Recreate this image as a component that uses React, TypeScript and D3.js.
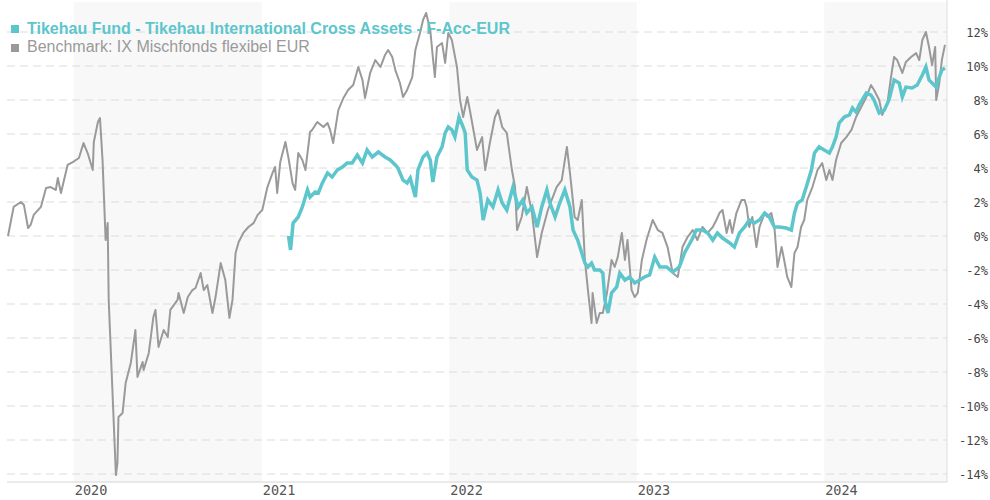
import React from "react";
import * as d3 from "d3";

const fundName = "Tikehau Fund - Tikehau International Cross Assets - F-Acc-EUR";
const benchName = "Benchmark: IX Mischfonds flexibel EUR";

const yearLabels = ["2020", "2021", "2022", "2023", "2024"];
const shadedYears = ["2020", "2022", "2024"];
const yTicks = [12, 10, 8, 6, 4, 2, 0, -2, -4, -6, -8, -10, -12, -14];

const benchDates = [
  "2019-08-26","2019-09-01","2019-09-06","2019-09-20","2019-09-26","2019-10-04","2019-10-09","2019-10-15","2019-10-29","2019-11-08",
  "2019-11-17","2019-11-27","2019-12-01","2019-12-07","2019-12-20","2019-12-30","2020-01-11","2020-01-20","2020-01-28","2020-02-07",
  "2020-02-09","2020-02-17","2020-02-21","2020-02-26","2020-03-03","2020-03-07","2020-03-09","2020-03-17","2020-03-23","2020-03-26",
  "2020-03-28","2020-04-05","2020-04-11","2020-04-21","2020-04-30","2020-05-04","2020-05-14","2020-05-16","2020-05-26","2020-06-04",
  "2020-06-08","2020-06-14","2020-06-24","2020-07-02","2020-07-07","2020-07-21","2020-07-23","2020-08-02","2020-08-10","2020-08-19",
  "2020-08-25","2020-09-04","2020-09-10","2020-09-17","2020-09-27","2020-10-03","2020-10-13","2020-10-22","2020-10-30","2020-11-05",
  "2020-11-11","2020-11-17","2020-11-26","2020-12-06","2020-12-16","2020-12-24","2021-01-02","2021-01-12","2021-01-22","2021-01-27",
  "2021-01-31","2021-02-06","2021-02-16","2021-02-22","2021-03-02","2021-03-07","2021-03-13","2021-03-21","2021-03-27","2021-04-05",
  "2021-04-09","2021-04-19","2021-05-01","2021-05-09","2021-05-14","2021-05-20","2021-05-30","2021-06-09","2021-06-18","2021-06-28",
  "2021-07-08","2021-07-16","2021-07-21","2021-07-31","2021-08-10","2021-08-20","2021-08-29","2021-09-04","2021-09-12","2021-09-18",
  "2021-09-27","2021-10-03","2021-10-11","2021-10-21","2021-10-27","2021-11-05","2021-11-11","2021-11-17","2021-11-25","2021-11-30",
  "2021-12-04","2021-12-08","2021-12-18","2021-12-24","2021-12-30","2022-01-06","2022-01-16","2022-01-22","2022-01-28","2022-02-05",
  "2022-02-10","2022-02-16","2022-02-24","2022-03-06","2022-03-12","2022-03-21","2022-03-31","2022-04-06","2022-04-14","2022-04-23",
  "2022-05-03","2022-05-09","2022-05-13","2022-05-22","2022-06-01","2022-06-11","2022-06-21","2022-06-30","2022-07-12","2022-07-29",
  "2022-08-08","2022-08-18","2022-08-24","2022-09-02","2022-09-08","2022-09-16","2022-09-22","2022-09-28","2022-10-05","2022-10-07",
  "2022-10-15","2022-10-21","2022-10-27","2022-11-04","2022-11-13","2022-11-19","2022-11-25","2022-12-03","2022-12-09","2022-12-14",
  "2022-12-22","2022-12-28","2023-01-03","2023-01-11","2023-01-20","2023-02-01","2023-02-11","2023-02-20","2023-03-02","2023-03-12",
  "2023-03-22","2023-03-31","2023-04-10","2023-04-20","2023-04-29","2023-05-09","2023-05-19","2023-05-29","2023-06-05","2023-06-11",
  "2023-06-17","2023-06-25","2023-07-01","2023-07-06","2023-07-14","2023-07-24","2023-07-30","2023-08-03","2023-08-08","2023-08-14",
  "2023-08-22","2023-08-28","2023-09-07","2023-09-12","2023-09-20","2023-09-26","2023-10-02","2023-10-10","2023-10-15","2023-10-21",
  "2023-10-29","2023-11-04","2023-11-10","2023-11-17","2023-11-23","2023-11-29","2023-12-09","2023-12-19","2023-12-28","2024-01-05",
  "2024-01-11","2024-01-17","2024-01-24","2024-02-03","2024-02-13","2024-02-23","2024-03-03","2024-03-13","2024-03-23","2024-04-01",
  "2024-04-07","2024-04-17","2024-04-23","2024-05-03","2024-05-10","2024-05-16","2024-05-22","2024-06-01","2024-06-08","2024-06-18",
  "2024-06-28","2024-07-04","2024-07-10","2024-07-17","2024-07-23","2024-07-29","2024-08-04","2024-08-06","2024-08-12","2024-08-17",
  "2024-08-23"
];
const benchValues = [
  0, 0.94, 1.71, 2.0, 1.82, 0.47, 0.65, 1.24, 1.71, 2.82,
  2.88, 2.71, 3.41, 2.53, 4.18, 4.35, 4.59, 5.47, 4.88, 3.88,
  5.53, 6.71, 6.94, 4.47, -0.24, 0.76, -3.76, -9.65, -14.06, -13.35,
  -10.65, -10.41, -8.65, -7.47, -5.53, -8.29, -7.41, -7.88, -6.88, -4.76,
  -4.35, -6.53, -5.53, -5.94, -4.35, -3.76, -3.35, -4.53, -3.59, -3.18,
  -3.06, -2.18, -3.18, -2.88, -4.53, -3.59, -1.59, -2.59, -4.82, -3.76,
  -1.0, -0.35, 0.18, 0.53, 0.76, 1.24, 1.53, 2.88, 3.71, 4.06,
  2.53, 4.35, 5.53, 4.59, 3.1, 2.71, 4.88, 4.47, 3.88, 6.12,
  6.24, 6.71, 6.41, 6.65, 6.24, 5.47, 7.41, 8.12, 8.59, 8.88,
  9.94, 9.18, 8.12, 9.59, 10.35, 9.94, 10.65, 10.94, 10.53, 9.76,
  9.0, 8.18, 8.59, 9.35, 10.94, 11.94, 12.71, 13.12, 12.12, 10.53,
  9.35, 11.12, 11.35, 10.18, 11.94, 11.53, 9.94, 8.0, 7.0, 8.18,
  7.41, 6.41, 5.06, 5.82, 3.88, 5.47, 7.0, 7.41, 6.41, 6.06,
  3.88, 2.88, 0.35, 1.12, 2.88, 1.35, -1.24, 0.18, 1.53, 2.88,
  3.29, 5.24, 3.71, 1.12, 0.94, 2.12, -1.41, -3.18, -5.12, -3.35,
  -5.12, -4.53, -4.53, -3.35, -1.41, -1.82, -1.24, 0.18, -1.41, -0.24,
  -3.18, -3.59, -3.35, -1.41, -0.24, 0.94, 0.35, 0.18, -0.65, -2.18,
  -2.41, -0.65, -0.06, 0.35, -0.24, 0.53, 0.18, 0.53, 0.94, 1.35,
  1.53, 0.18, 0.94, 0.18, 1.35, 2.12, 2.12, 1.71, 0.53, 1.12,
  -0.65, 0.53, 1.35, 1.12, 1.35, 0.53, -1.82, -0.65, -1.41, -2.41,
  -3.0, -1.0, -0.65, 0.53, 0.94, 2.12, 2.88, 3.88, 4.29, 3.29,
  3.88, 3.29, 4.47, 5.47, 5.82, 6.24, 7.0, 7.59, 8.18, 8.88,
  8.59, 8.0, 7.12, 7.82, 9.35, 10.53, 10.35, 9.59, 10.24, 10.53,
  10.76, 10.35, 11.53, 12.0, 11.12, 10.06, 11.12, 8.0, 9.0, 10.35,
  11.24
];

const fundDates = [
  "2021-02-22","2021-02-26","2021-03-03","2021-03-13","2021-03-21","2021-03-31","2021-04-05","2021-04-15","2021-04-21","2021-04-29",
  "2021-05-09","2021-05-18","2021-05-28","2021-06-07","2021-06-16","2021-06-26","2021-07-06","2021-07-16","2021-07-25","2021-08-04",
  "2021-08-16","2021-08-29","2021-09-08","2021-09-18","2021-09-23","2021-10-03","2021-10-11","2021-10-17","2021-10-27","2021-11-01",
  "2021-11-11","2021-11-19","2021-11-25","2021-11-30","2021-12-08","2021-12-18","2021-12-24","2021-12-30","2022-01-06","2022-01-12",
  "2022-01-20","2022-01-28","2022-02-01","2022-02-05","2022-02-14","2022-02-24","2022-03-02","2022-03-08","2022-03-17","2022-03-27",
  "2022-04-06","2022-04-14","2022-04-23","2022-05-05","2022-05-15","2022-05-24","2022-06-01","2022-06-11","2022-06-21","2022-06-30",
  "2022-07-10","2022-07-16","2022-07-26","2022-08-04","2022-08-14","2022-08-24","2022-08-30","2022-09-08","2022-09-16","2022-09-22",
  "2022-09-28","2022-10-05","2022-10-11","2022-10-21","2022-10-27","2022-10-31","2022-11-06","2022-11-13","2022-11-23","2022-11-29",
  "2022-12-09","2022-12-18","2022-12-28","2023-01-07","2023-01-16","2023-01-26","2023-02-05","2023-02-15","2023-02-28","2023-03-12",
  "2023-03-25","2023-04-04","2023-04-18","2023-04-27","2023-05-09","2023-05-19","2023-05-29","2023-06-07","2023-06-17","2023-07-01",
  "2023-07-10","2023-07-20","2023-07-30","2023-08-08","2023-08-18","2023-08-28","2023-09-07","2023-09-16","2023-09-26","2023-10-06",
  "2023-10-19","2023-10-29","2023-11-04","2023-11-10","2023-11-19","2023-11-27","2023-12-07","2023-12-13","2023-12-22","2024-01-01",
  "2024-01-11","2024-01-17","2024-01-24","2024-01-30","2024-02-09","2024-02-19","2024-02-25","2024-03-03","2024-03-09","2024-03-15",
  "2024-03-23","2024-04-01","2024-04-07","2024-04-17","2024-04-27","2024-05-06","2024-05-16","2024-05-26","2024-06-01","2024-06-08",
  "2024-06-20","2024-06-30","2024-07-10","2024-07-17","2024-07-23","2024-07-29","2024-08-06","2024-08-10","2024-08-17","2024-08-23"
];
const fundValues = [
  0, -0.82, 0.76, 1.12, 1.71, 2.71, 2.29, 2.59, 2.53, 3.12,
  3.71, 3.47, 3.88, 4.06, 4.29, 4.29, 4.76, 4.29, 5.06, 4.65,
  4.94, 4.65, 4.47, 4.18, 4.0, 3.29, 3.12, 3.41, 2.29, 3.88,
  4.65, 4.88, 4.47, 3.18, 4.65, 5.24, 6.06, 6.41, 6.24, 5.82,
  7.0, 6.41, 6.06, 3.88, 3.47, 3.29, 2.53, 0.94, 2.12, 1.71,
  2.71, 1.94, 1.53, 2.88, 1.71, 2.12, 1.35, 1.71, 0.53, 1.71,
  2.71, 1.94, 1.12, 1.94, 2.71, 1.71, 0.35, -0.24, -1.0, -1.59,
  -1.82, -1.59, -2.0, -2.0, -2.18, -3.76, -4.53, -3.35, -3.0, -2.18,
  -2.59, -2.41, -2.76, -2.59, -2.41, -2.29, -1.24, -1.82, -1.82, -2.12,
  -1.82, -1.0, -0.24, 0.35, 0.35, 0.18, -0.24, 0.18, -0.12, -0.41,
  -0.65, 0.18, 0.53, 0.94, 0.76, 0.94, 1.35, 1.12, 0.53, 0.53,
  0.47, 0.35, 1.35, 1.94, 2.12, 2.88, 3.88, 4.88, 5.24, 5.06,
  4.88, 5.24, 5.82, 6.65, 7.0, 7.12, 7.53, 7.29, 7.71, 8.0,
  8.41, 8.29, 8.0, 7.24, 7.41, 8.0, 9.18, 9.0, 8.18, 8.76,
  8.71, 8.88, 9.47, 9.94, 9.18, 9.0, 8.76, 9.18, 9.76, 9.88
];

const FUND_COLOR = "#5cc6cc";
const BENCH_COLOR = "#9a9a9a";

export default function App() {
  const parse = d3.utcParse("%Y-%m-%d");
  const left = 7, right = 947, top = 2, bottom = 482;
  const x = d3.scaleUtc()
    .domain([parse("2019-08-24") as Date, parse("2024-08-27") as Date])
    .range([left, right]);
  const y = d3.scaleLinear().domain([-14, 12]).range([474, 32]);

  const bench = benchDates.map((d, i) => ({ d: parse(d) as Date, v: benchValues[i] }));
  const fund = fundDates.map((d, i) => ({ d: parse(d) as Date, v: fundValues[i] }));

  const line = d3.line<{ d: Date; v: number }>()
    .x((p) => x(p.d))
    .y((p) => y(p.v));

  const yearStart = (yr: string) => x(parse(`${yr}-01-01`) as Date);

  return (
    <svg width={990} height={500} style={{ position: "absolute", left: 0, top: 0, background: "#fff" }}
      fontFamily="'Liberation Sans', Arial, sans-serif">
      {shadedYears.map((yr) => {
        const x0 = yearStart(yr);
        const x1 = Math.min(yearStart(String(+yr + 1)), right);
        return <rect key={yr} x={x0} y={top} width={x1 - x0} height={bottom - top} fill="#f8f8f8" />;
      })}
      {yTicks.map((t) => (
        <line key={t} x1={left} x2={right} y1={y(t)} y2={y(t)} stroke="#dcdcdc" strokeWidth={1} strokeDasharray="8,5" />
      ))}
      <line x1={left} x2={right} y1={bottom} y2={bottom} stroke="#d6d6d6" strokeWidth={1} />
      <line x1={right} x2={right} y1={0} y2={bottom} stroke="#dedede" strokeWidth={1} />
      <path d={line(bench) || ""} fill="none" stroke={BENCH_COLOR} strokeWidth={2} strokeLinejoin="round" />
      <path d={line(fund) || ""} fill="none" stroke={FUND_COLOR} strokeWidth={3.5} strokeLinejoin="miter" />
      {yTicks.map((t) => (
        <text key={t} x={988} y={y(t) + 5} textAnchor="end" fontFamily="'DejaVu Sans Mono', monospace" fontSize={12} fill="#444">
          {`${t}%`}
        </text>
      ))}
      {yearLabels.map((yr) => (
        <text key={yr} x={yearStart(yr) + 1} y={495} fontFamily="'DejaVu Sans Mono', monospace" fontSize={13.5} fill="#555">
          {yr}
        </text>
      ))}
      <rect x={11} y={25} width={8} height={8} fill={FUND_COLOR} />
      <text x={27} y={34} fontSize={16} fontWeight="bold" fill={FUND_COLOR} textLength={483} lengthAdjust="spacingAndGlyphs">{fundName}</text>
      <rect x={11} y={44} width={8} height={8} fill={BENCH_COLOR} />
      <text x={27} y={52} fontSize={16} fill={BENCH_COLOR}>{benchName}</text>
    </svg>
  );
}
